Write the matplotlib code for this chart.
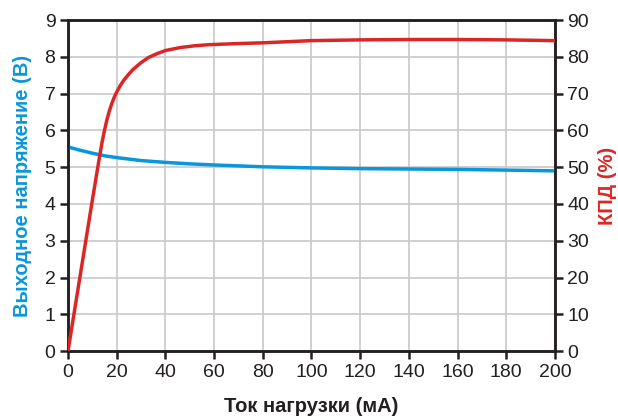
import matplotlib.pyplot as plt
from matplotlib.ticker import MultipleLocator

plt.rcParams['font.family'] = ['Liberation Sans', 'DejaVu Sans']

# Выходное напряжение (В)
tok_v = [0, 5, 10, 15, 20, 30, 40, 50, 60, 80, 100, 120, 140, 160, 180, 200]
napr = [5.55, 5.46, 5.38, 5.31, 5.26, 5.18, 5.13, 5.09, 5.06, 5.01, 4.98, 4.96, 4.95, 4.94, 4.92, 4.90]

# КПД (%)
tok_k = [0, 5, 10, 12, 13, 14, 15, 16, 17, 18, 19, 20, 21.5, 23, 25, 26.5, 28, 30, 33, 36.7,
         40, 46, 52, 58, 70, 80, 100, 120, 140, 160, 180, 200]
kpd = [0, 20.5, 41, 49, 53, 56.8, 60, 62.9, 65.3, 67.3, 69, 70.4, 72.2, 73.7, 75.3, 76.4, 77.3, 78.4, 79.8, 80.9,
       81.7, 82.5, 83, 83.3, 83.6, 83.8, 84.4, 84.6, 84.7, 84.7, 84.6, 84.4]

blue = '#0a96dc'
red = '#dc2626'

fig = plt.figure(figsize=(6.18, 4.17), dpi=100)
ax = fig.add_axes([0.110, 0.158, 0.788, 0.794])
ax2 = ax.twinx()

ax.plot(tok_v, napr, color=blue, lw=2.5, zorder=3)
ax2.plot(tok_k, kpd, color=red, lw=2.5, zorder=3)

ax.set_xlim(0, 200)
ax.set_ylim(0, 9)
ax2.set_ylim(0, 90)
ax.xaxis.set_major_locator(MultipleLocator(20))
ax.yaxis.set_major_locator(MultipleLocator(1))
ax2.yaxis.set_major_locator(MultipleLocator(10))
ax.grid(True, color='#c8c8c8', lw=1.2)
ax.set_axisbelow(True)

for a in (ax, ax2):
    for s in a.spines.values():
        s.set_linewidth(1.8)
        s.set_color('#231f20')
    a.tick_params(direction='out', length=6, width=1.8, labelsize=14, colors='#231f20', pad=3)
ax.tick_params(axis='x', top=False)

ax.set_xlabel('Ток нагрузки (мА)', fontsize=14.5, fontweight='bold', color='#231f20', labelpad=12)
ax.set_ylabel('Выходное напряжение (В)', fontsize=14.5, fontweight='bold', color=blue, labelpad=9)
ax2.set_ylabel('КПД (%)', fontsize=14.5, fontweight='bold', color=red, labelpad=6)

fig.savefig('out.png', dpi=100)
